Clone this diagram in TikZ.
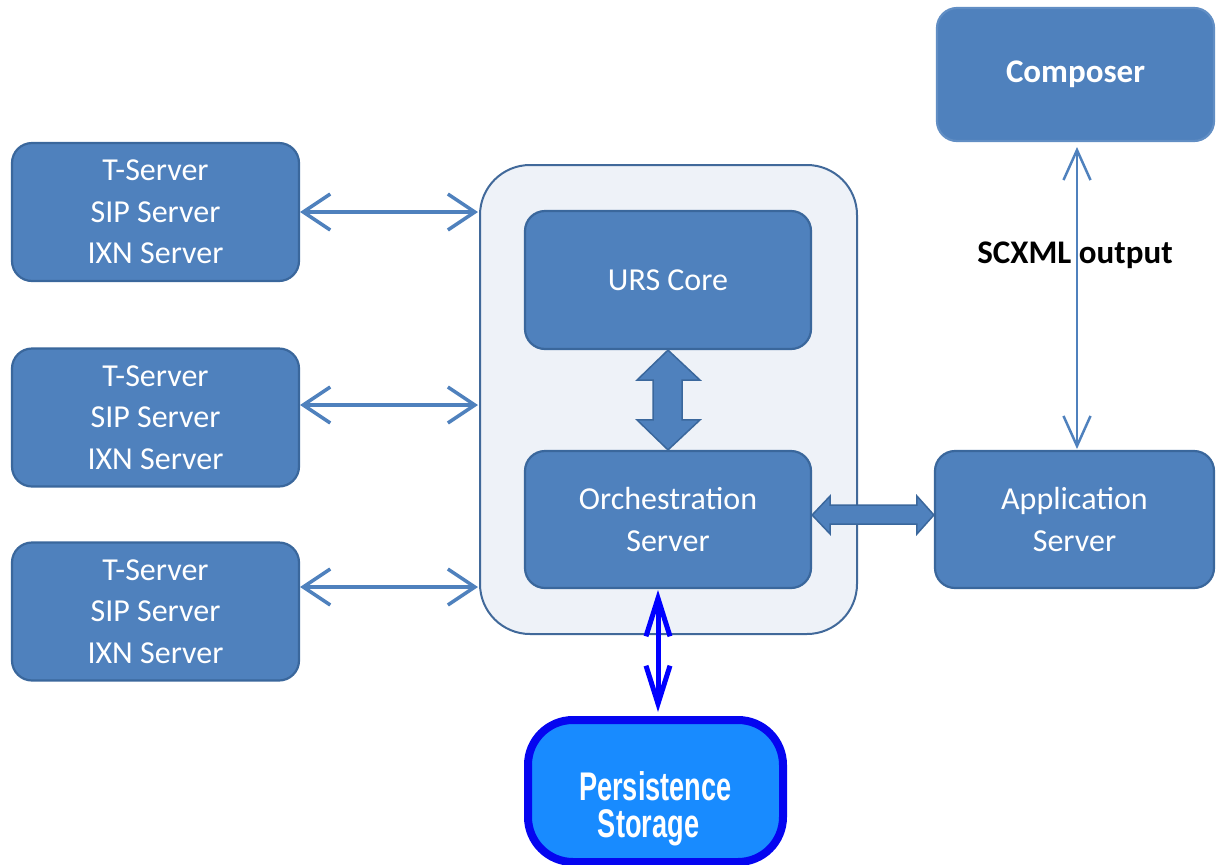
\documentclass[tikz,border=0pt]{standalone}
\usepackage{fontspec}
\setmainfont{Carlito}
\newfontfamily\narrowbold[FakeStretch=0.68]{Liberation Sans Bold}
\usetikzlibrary{arrows.meta,calc}
\definecolor{boxfill}{HTML}{4F81BD}
\definecolor{boxline}{HTML}{3A679C}
\definecolor{contfill}{HTML}{EEF2F8}
\definecolor{contline}{HTML}{41699A}
\definecolor{arrowc}{HTML}{4F81BD}
\definecolor{psfill}{HTML}{188BFF}
\definecolor{psline}{HTML}{0505F0}
\tikzset{
  srvbox/.style={draw=boxline, fill=boxfill, line width=2.2pt, rounded corners=20pt,
    text=white, align=center, inner sep=0pt, font=\fontsize{32}{41.5}\selectfont},
  thinarrow/.style={draw=arrowc, line width=3.5pt,
    {Straight Barb[length=27pt,width=36pt]}-{Straight Barb[length=27pt,width=36pt]}},
  blockarrow/.style={fill=boxfill, draw=boxline, line width=1.5pt, line join=miter},
}
\begin{document}
\begin{tikzpicture}[x=1pt,y=-1pt]
\useasboundingbox (0,0) rectangle (1216,865);

% container
\node[draw=contline, fill=contfill, line width=2pt, rounded corners=50pt,
  minimum width=377pt, minimum height=469pt, inner sep=0pt] (cont) at (668.5,399.5) {};

% left boxes
\node[srvbox, minimum width=287pt, minimum height=138pt] (b1) at (155.5,212) {T-Server\\SIP Server\\IXN Server};
\node[srvbox, minimum width=287pt, minimum height=138pt] (b2) at (155.5,417.5) {T-Server\\SIP Server\\IXN Server};
\node[srvbox, minimum width=287pt, minimum height=138pt] (b3) at (155.5,611.5) {T-Server\\SIP Server\\IXN Server};

% inner boxes
\node[srvbox, minimum width=286pt, minimum height=138pt] (urs) at (668,280) {URS Core};
\node[srvbox, minimum width=286pt, minimum height=137pt] (orch) at (668,519.5) {Orchestration\\Server};

% right boxes
\node[srvbox, minimum width=279pt, minimum height=137pt] (app) at (1074.5,519.5) {Application\\Server};
\node[srvbox, draw=boxfill!90!white, minimum width=277pt, minimum height=133pt,
  font=\fontsize{33}{40}\selectfont\bfseries] (comp) at (1075.5,74.5) {\raisebox{-3pt}{Composer}};

% persistence storage
\node[draw=psline, fill=psfill, line width=8pt, rounded corners=45pt,
  minimum width=255pt, minimum height=142pt, inner sep=0pt] (ps) at (655.5,791) {};
\node[text=white, align=center, inner sep=0pt,
  font=\fontsize{40}{37}\narrowbold] (pstext) at ($(ps.center)+(0,18)$) {Persistence\\Storage\kern14pt};

% left thin arrows
\coordinate (c1) at (478,212);
\coordinate (c2) at (478,405);
\coordinate (c3) at (478,587);
\draw[thinarrow] (b1.east |- c1) -- (c1);
\draw[thinarrow] (b2.east |- c2) -- (c2);
\draw[thinarrow] (b3.east |- c3) -- (c3);

% composer <-> application server
\coordinate (ct) at (1077,147);
\coordinate (cb) at (1077,449);
\draw[draw=arrowc, line width=2.5pt,
  {Straight Barb[length=30pt,width=27pt]}-{Straight Barb[length=30pt,width=27pt]}] (ct) -- (cb);
\node[font=\fontsize{33}{40}\selectfont\bfseries, text=black, inner sep=0pt] (scxml) at (1075,255) {SCXML output};

% block arrow URS <-> Orchestration
\draw[blockarrow] (urs.south)
  -- ($(urs.south)+(32,30)$) -- ($(urs.south)+(14,30)$)
  -- ($(orch.north)+(14,-30)$) -- ($(orch.north)+(32,-30)$)
  -- (orch.north)
  -- ($(orch.north)+(-31,-30)$) -- ($(orch.north)+(-15,-30)$)
  -- ($(urs.south)+(-15,30)$) -- ($(urs.south)+(-31,30)$) -- cycle;

% block arrow Orchestration <-> Application
\coordinate (hl) at (orch.east |- 0,515);
\coordinate (hr) at (app.west |- 0,515);
\draw[blockarrow] (hl)
  -- ($(hl)+(18,-19)$) -- ($(hl)+(18,-10)$)
  -- ($(hr)+(-17,-10)$) -- ($(hr)+(-17,-19)$)
  -- (hr)
  -- ($(hr)+(-17,19)$) -- ($(hr)+(-17,9)$)
  -- ($(hl)+(18,9)$) -- ($(hl)+(18,19)$) -- cycle;

% blue arrow orchestration <-> persistence
\coordinate (pt) at (658,590);
\coordinate (pb) at (658,712);
\draw[draw=blue, line width=5pt,
  {Straight Barb[length=38pt,width=24pt]}-{Straight Barb[length=38pt,width=24pt]}] (pt) -- (pb);
\end{tikzpicture}
\end{document}
